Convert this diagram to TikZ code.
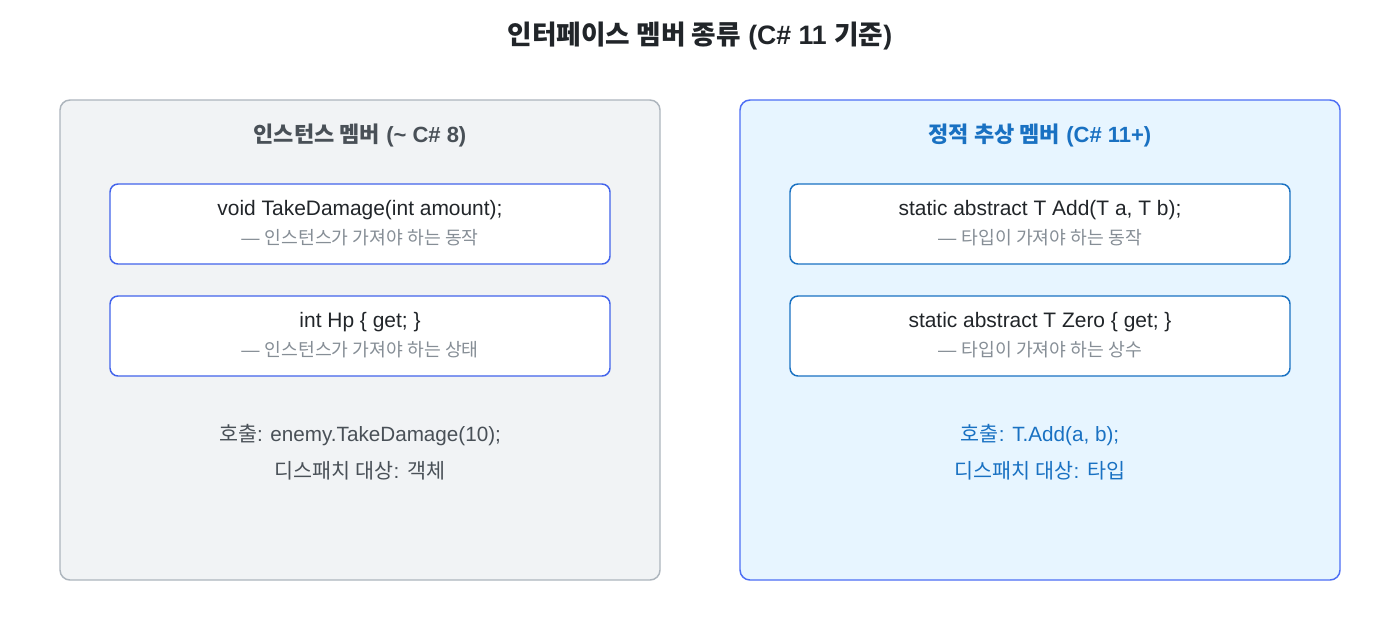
\documentclass[tikz,border=0pt]{standalone}
\usepackage{fontspec}
\setmainfont{Liberation Sans}
\newfontfamily\kr{Noto Sans CJK KR}
\definecolor{titlecol}{HTML}{212529}
\definecolor{lgfill}{HTML}{F1F3F5}
\definecolor{lgdraw}{HTML}{ADB5BD}
\definecolor{lgtext}{HTML}{495057}
\definecolor{rbfill}{HTML}{E7F5FF}
\definecolor{rbdraw}{HTML}{4C6EF5}
\definecolor{rbtext}{HTML}{1971C2}
\definecolor{innerL}{HTML}{4263EB}
\definecolor{innerR}{HTML}{1971C2}
\definecolor{subtext}{HTML}{868E96}
\definecolor{maintext}{HTML}{212529}
\tikzset{
  panel/.style={rounded corners=7.5pt, line width=1.1pt},
  itembox/.style={rounded corners=6pt, line width=1.1pt, fill=white},
  maintxt/.style={font=\fontsize{15.7pt}{18pt}\selectfont, text=maintext},
  subtxt/.style={font=\fontsize{13.7pt}{16pt}\selectfont, text=subtext},
  headtxt/.style={font=\fontsize{16.5pt}{20pt}\selectfont\bfseries},
  bottxt/.style={font=\fontsize{15.5pt}{18pt}\selectfont},
}
\begin{document}
\begin{tikzpicture}[x=0.75pt,y=-0.75pt]
\useasboundingbox (0,0) rectangle (1400,640);
\fill[white] (0,0) rectangle (1400,640);
\node[font=\fontsize{20pt}{24pt}\selectfont\bfseries, text=titlecol] (title) at (700,36) {{\kr 인터페이스 멤버 종류} (C\# 11 {\kr 기준})};
% left panel
\draw[panel, fill=lgfill, draw=lgdraw] (60,100) rectangle (660,580);
\node[headtxt, text=lgtext] (lhead) at (360,135) {{\kr 인스턴스 멤버} ({\char"007E} C\# 8)};
\draw[itembox, draw=innerL] (110,184) rectangle (610,264);
\node[maintxt] (l1a) at (360,210) {void TakeDamage(int amount);};
\node[subtxt] (l1b) at (360,238) {— {\kr 인스턴스가 가져야 하는 동작}};
\draw[itembox, draw=innerL] (110,296) rectangle (610,376);
\node[maintxt] (l2a) at (360,322) {int Hp \{ get; \}};
\node[subtxt] (l2b) at (360,350) {— {\kr 인스턴스가 가져야 하는 상태}};
\node[bottxt, text=lgtext] (l3) at (360,435) {{\kr 호출}: enemy.TakeDamage(10);};
\node[bottxt, text=lgtext] (l4) at (360,471) {{\kr 디스패치 대상}: {\kr 객체}};
% right panel
\draw[panel, fill=rbfill, draw=rbdraw] (740,100) rectangle (1340,580);
\node[headtxt, text=rbtext] (rhead) at (1040,135) {{\kr 정적 추상 멤버} (C\# 11+)};
\draw[itembox, draw=innerR] (790,184) rectangle (1290,264);
\node[maintxt] (r1a) at (1040,210) {static abstract T Add(T a, T b);};
\node[subtxt] (r1b) at (1040,238) {— {\kr 타입이 가져야 하는 동작}};
\draw[itembox, draw=innerR] (790,296) rectangle (1290,376);
\node[maintxt] (r2a) at (1040,322) {static abstract T Zero \{ get; \}};
\node[subtxt] (r2b) at (1040,350) {— {\kr 타입이 가져야 하는 상수}};
\node[bottxt, text=rbtext] (r3) at (1040,435) {{\kr 호출}: T.Add(a, b);};
\node[bottxt, text=rbtext] (r4) at (1040,471) {{\kr 디스패치 대상}: {\kr 타입}};
\end{tikzpicture}
\end{document}
